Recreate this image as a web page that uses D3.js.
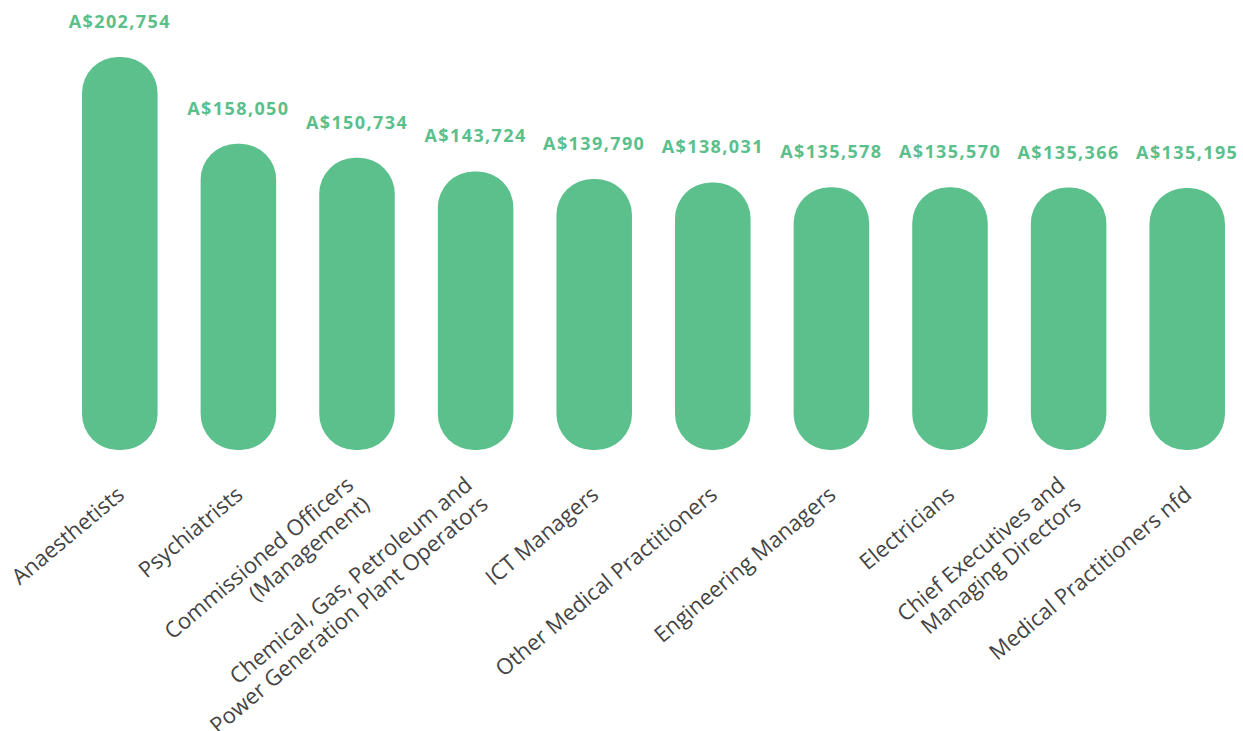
<!DOCTYPE html>
<html>
<head>
<meta charset="utf-8">
<script src="https://cdn.jsdelivr.net/npm/d3@7"></script>
<style>
  body { margin: 0; background: #fff; }
  svg { display: block; font-family: 'Open Sans', sans-serif; }
  .val { fill: #5bbf8b; font-weight: 700; font-size: 18px; letter-spacing: 1.4px; }
  .cat { fill: #444; font-size: 22px; }
</style>
</head>
<body>
<svg id="chart"></svg>
<script>
// occupations (label lines) and average salary
const occupations = [
  ['Anaesthetists'],
  ['Psychiatrists'],
  ['Commissioned Officers', '(Management)'],
  ['Chemical, Gas, Petroleum and', 'Power Generation Plant Operators'],
  ['ICT Managers'],
  ['Other Medical Practitioners'],
  ['Engineering Managers'],
  ['Electricians'],
  ['Chief Executives and', 'Managing Directors'],
  ['Medical Practitioners nfd']
];
const salaries = [202754, 158050, 150734, 143724, 139790, 138031, 135578, 135570, 135366, 135195];

const width = 1243, height = 731;
const svg = d3.select('#chart').attr('width', width).attr('height', height);

const baseY = 450;
const x = d3.scaleBand()
    .domain(d3.range(occupations.length))
    .range([60.5, 1246.5])
    .paddingInner(0.363)
    .paddingOuter(0.1815);
const y = d3.scaleLinear()
    .domain([0, 202754])
    .range([baseY, 57]);

const bw = x.bandwidth();
const fmt = v => 'A$' + d3.format(',')(v);

const g = svg.append('g');

g.selectAll('rect.bar').data(salaries).enter().append('rect')
    .attr('class', 'bar')
    .attr('x', (d, i) => x(i))
    .attr('y', d => y(d))
    .attr('width', bw)
    .attr('height', d => baseY - y(d))
    .attr('rx', 36).attr('ry', 36)
    .attr('fill', '#5bc08c');

g.selectAll('text.val').data(salaries).enter().append('text')
    .attr('class', 'val')
    .attr('x', (d, i) => x(i) + bw / 2)
    .attr('y', d => y(d) - 29)
    .attr('text-anchor', 'middle')
    .text(d => fmt(d));

const lineH = 25;
const cats = g.selectAll('text.cat').data(occupations).enter().append('text')
    .attr('class', 'cat')
    .attr('text-anchor', 'end')
    .attr('transform', (d, i) => 'translate(' + (x(i) + bw / 2 + 1) + ',' + 491 + ') rotate(-40)');

cats.each(function(lines) {
    const t = d3.select(this);
    lines.forEach((l, k) => {
        t.append('tspan')
            .attr('x', 0)
            .attr('y', (k - (lines.length - 1) / 2) * lineH)
            .attr('dy', '0.35em')
            .text(l);
    });
});
</script>
</body>
</html>
